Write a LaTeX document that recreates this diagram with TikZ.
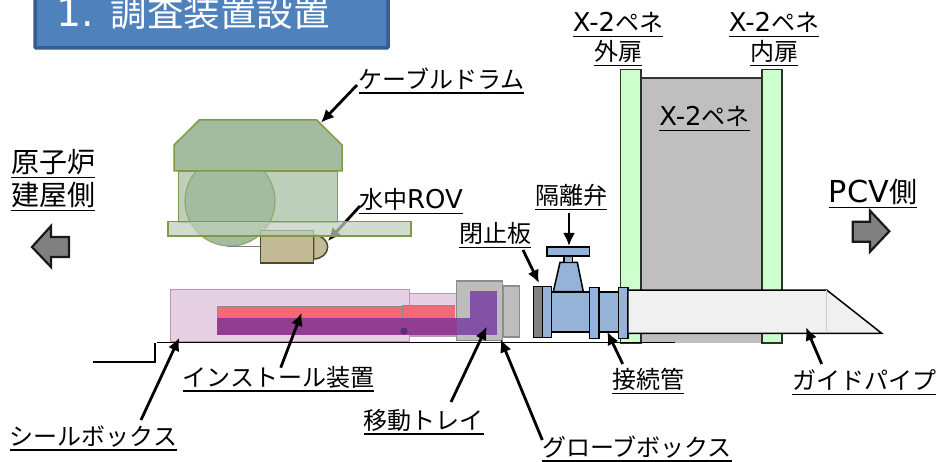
\documentclass[tikz,border=0pt]{standalone}
\usepackage{fontspec}
\setmainfont{DejaVu Sans}[Scale=1.08]
\newfontfamily\cjk{Noto Sans CJK JP}
\newcommand\J[1]{{\cjk #1}}
\newcommand\U[1]{\leavevmode\vtop{\hbox{\smash{#1}}\kern4pt\hrule height 1.5pt}}
\usetikzlibrary{arrows.meta}
\definecolor{blueF}{HTML}{4F81BD}
\definecolor{blueL}{HTML}{385D8A}
\definecolor{valve}{HTML}{95B3D7}
\definecolor{drumL}{HTML}{7F9B43}
\definecolor{drumTop}{HTML}{A3BB9F}
\definecolor{drumLow}{HTML}{BED0BC}
\definecolor{rovF}{HTML}{C2B995}
\definecolor{rovL}{HTML}{4F4A2A}
\definecolor{sealF}{HTML}{E6D0E4}
\definecolor{sealL}{HTML}{B896B4}
\definecolor{redbar}{HTML}{F26A76}
\definecolor{purplebar}{HTML}{933D92}
\definecolor{tray}{HTML}{8351A6}
\definecolor{dotc}{HTML}{5A2D82}
\definecolor{doorF}{HTML}{CCFFCC}
\definecolor{doorL}{HTML}{263326}
\tikzset{
 lab/.style={anchor=base,inner sep=0pt,font=\fontsize{24}{26}\selectfont,text=black},
 labbig/.style={lab,font=\fontsize{28}{30}\selectfont},
 conn/.style={-{Latex[length=13pt,width=12pt]},line width=2.8pt,black},
 drum/.style={draw=drumL,line width=1.5pt},
 valvepart/.style={draw=black,line width=1.5pt,fill=valve},
 door/.style={draw=doorL,line width=1.5pt,fill=doorF},
 sidearrow/.style={draw=black!90,line width=2.2pt,fill=black!50,miter limit=10},
 seal/.style={draw=sealL,line width=1.5pt,fill=sealF},
 grey/.style={draw=black!45,line width=1.5pt,fill=black!26},
}
\begin{document}
\begin{tikzpicture}[x=1pt,y=-1pt]
\useasboundingbox (0,0) rectangle (939,462);
\fill[white] (0,0) rectangle (939,462);
\begin{scope}
\clip (0,0) rectangle (939,462);
% title
\draw[blueL,line width=3.5pt,fill=blueF,rounded corners=1pt] (35,-10) rectangle (388,48);
\node[anchor=base west,inner sep=0pt,text=white,font=\fontsize{36.5}{38}\selectfont] (title) at (56,26.5) {1. \J{調査装置設置}};
\end{scope}
% walls
\fill[black!25] (641,78) rectangle (762,343);
\draw[black!80,line width=1.4pt] (641,78) -- (762,78);
\draw[door] (620.7,69.5) rectangle (641,343);
\draw[door] (762,69.5) rectangle (782,343);
% ground
\draw[black,line width=1.5pt] (93.3,362) -- (155,362) -- (155,342.5);
\draw[black,line width=1.5pt] (157,342.5) -- (675,342.5);
% cable drum
\draw[drum,fill=drumLow] (178.7,171) rectangle (337.3,222);
\fill[fill=drumTop] (230,201) circle (45);
\draw[drumL!55!drumTop,line width=1.2pt] (230,201) circle (45);
\draw[drum,fill=drumTop] (174,145) -- (199.3,120) -- (316.7,120) -- (342,145) -- (342,171) -- (174,171) -- cycle;
% ROV
\draw[black!50,line width=1.4pt] (227,246.7) -- (260.7,246.7);
\draw[draw=rovL,line width=1.5pt,fill=rovF] (313.7,235) arc[start angle=-90,end angle=90,x radius=14,y radius=12] -- cycle;
\draw[draw=rovL,line width=1.5pt,fill=rovF] (260.7,230.7) rectangle (313.7,263);
% connectors under plate
\coordinate (rovS) at (360,206);
\coordinate (rovE) at (328,241);
\draw[conn] (rovS) -- (rovE);
% plate
\draw[drumL,line width=1.5pt,fill=drumLow,fill opacity=.72] (168,221.7) rectangle (411,236);
% seal box
\draw[seal] (409.3,293.3) rectangle (457,336);
\draw[seal] (170.7,289.3) rectangle (409.3,341.3);
\fill[fill=redbar] (217.3,306) rectangle (455,318);
\draw[black!45,line width=1pt] (217.3,318) -- (217.3,306) -- (402.3,306);
\draw[black!45,line width=1pt] (402.3,330) -- (402.3,305) -- (455,305);
% glove box
\draw[grey] (503.3,286) rectangle (519.3,337);
\draw[grey] (456.7,281) rectangle (502.7,340.7);
% tray
\fill[tray] (470,291) rectangle (496.7,334.7);
\fill[tray] (456.7,318) rectangle (470,334.7);
\fill[purplebar] (217.3,318) rectangle (456.7,334.7);
\fill[dotc] (404,331) circle (3.6);
% valve
\draw[valvepart,fill=black!50] (533.3,286.7) rectangle (542.3,337.3);
\draw[valvepart] (553.3,291.7) -- (560,262.3) -- (577.3,262.3) -- (583.3,291.7) -- cycle;
\draw[valvepart] (564,256) rectangle (572.7,262.3);
\draw[valvepart] (547,247) rectangle (589.3,256);
\draw[valvepart] (551.3,292) rectangle (589.3,332);
\draw[valvepart] (599,292) rectangle (618.7,332);
\draw[valvepart] (542.3,286.7) rectangle (551.3,337.3);
\draw[valvepart] (589.3,287.7) rectangle (599,338.3);
\draw[valvepart] (618.7,287.7) rectangle (628,338.3);
% guide pipe
\fill[black!6] (628.5,290) -- (826.7,290) -- (881.7,333.3) -- (628.5,333.3) -- cycle;
\draw[black,line width=1.5pt] (628.5,290) -- (826.7,290) -- (881.7,333.3) -- (628.5,333.3);
\draw[black!20,line width=.8pt] (826.7,290) -- (826.7,333);
% side arrows
\draw[sidearrow] (852.7,221.7) -- (870,221.7) -- (870,210.7) -- (889.3,231.3) -- (870,251.7) -- (870,241.7) -- (852.7,241.7) -- cycle;
\draw[sidearrow] (69,237) -- (51,237) -- (51,226) -- (32,247) -- (51,267) -- (51,257) -- (69,257) -- cycle;
% labels
\node[lab] (lDrum) at (441.5,88.5) {\U{\J{ケーブルドラム}}};
\node[labbig] (lGen1) at (53,173) {\U{\J{原子炉}}};
\node[labbig] (lGen2) at (53,206) {\U{\J{建屋側}}};
\node[labbig] (lPcv) at (873,203) {\U{PCV\J{側}}};
\node[lab] (lRov) at (411,209) {\U{\J{水中}ROV}};
\node[lab] (lIso) at (571,205) {\U{\J{隔離弁}}};
\node[lab] (lClose) at (495,243) {\U{\J{閉止板}}};
\node[lab] (lOut1) at (618,32) {\U{X-2\J{ペネ}}};
\node[lab] (lOut2) at (618,61) {\U{\J{外扉}}};
\node[lab] (lIn1) at (774,32) {\U{X-2\J{ペネ}}};
\node[lab] (lIn2) at (774,61) {\U{\J{内扉}}};
\node[lab] (lPen) at (704.5,126) {\U{X-2\J{ペネ}}};
\node[lab] (lInst) at (278.5,386) {\U{\J{インストール装置}}};
\node[lab] (lSeal) at (93.5,445) {\U{\J{シールボックス}}};
\node[lab] (lTray) at (423.5,429) {\U{\J{移動トレイ}}};
\node[lab] (lGlove) at (637,456) {\U{\J{グローブボックス}}};
\node[lab] (lPipe) at (648,388.5) {\U{\J{接続管}}};
\node[lab] (lGuide) at (864,389.5) {\U{\J{ガイドパイプ}}};
% connectors
\coordinate (a1) at (357,85); \coordinate (a2) at (321,122.7);
\draw[conn] (a1) -- (a2);
\coordinate (b1) at (569,213); \coordinate (b2) at (569,246);
\draw[conn] (b1) -- (b2);
\coordinate (c1) at (523,250); \coordinate (c2) at (539,283);
\draw[conn] (c1) -- (c2);
\coordinate (d1) at (280.7,367.7); \coordinate (d2) at (301.7,312.7);
\draw[conn] (d1) -- (d2);
\coordinate (e1) at (141,420); \coordinate (e2) at (179.3,337.7);
\draw[conn] (e1) -- (e2);
\coordinate (f1) at (451,402); \coordinate (f2) at (486.7,326.7);
\draw[conn] (f1) -- (f2);
\coordinate (g1) at (542.3,440); \coordinate (g2) at (500.7,339.3);
\draw[conn] (g1) -- (g2);
\coordinate (h1) at (622.7,364); \coordinate (h2) at (607.3,331.7);
\draw[conn] (h1) -- (h2);
\coordinate (i1) at (821.7,364); \coordinate (i2) at (806,327.3);
\draw[conn] (i1) -- (i2);
\end{tikzpicture}
\end{document}
